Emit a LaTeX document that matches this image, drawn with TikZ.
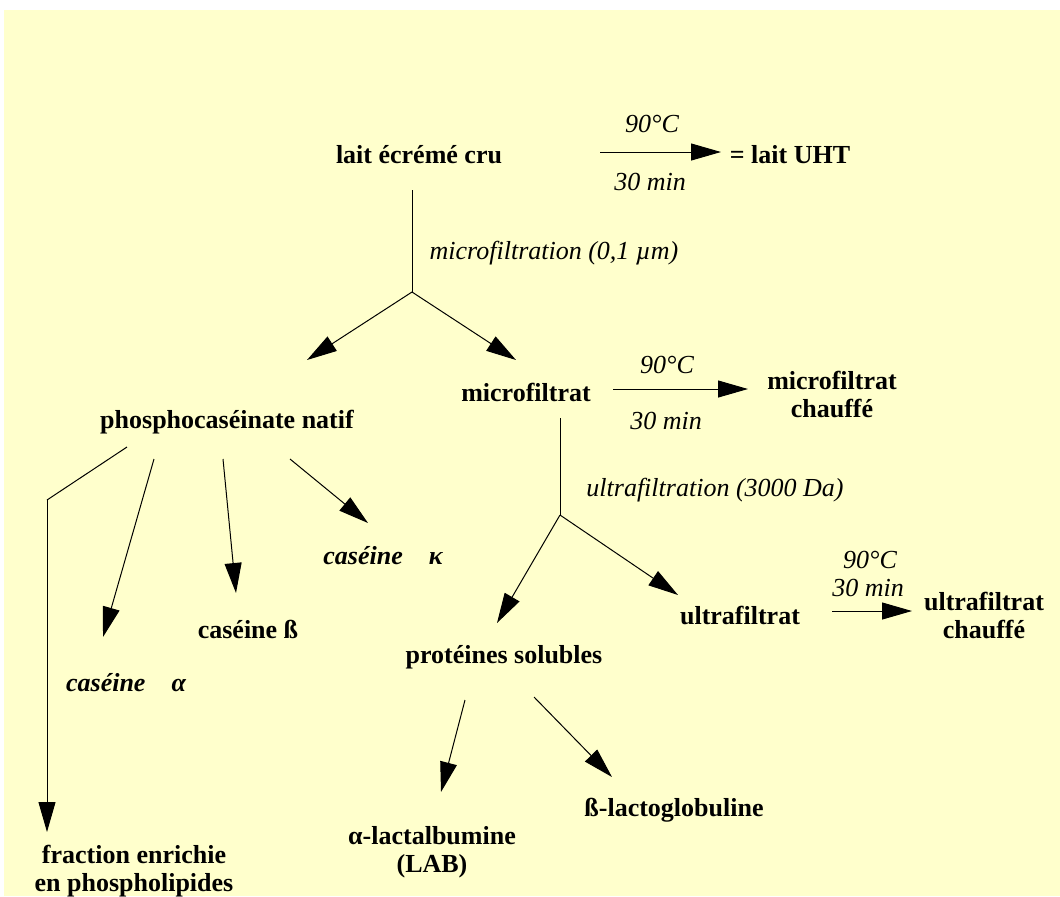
\documentclass[tikz,border=0pt]{standalone}
\usepackage{fontspec}
\setmainfont{Liberation Serif}
\usetikzlibrary{arrows.meta}
\definecolor{fond}{HTML}{FFFFCC}
\tikzset{
  produit/.style={font=\bfseries\fontsize{13}{14}\selectfont, align=center, inner sep=0pt},
  fraction/.style={font=\bfseries\itshape\fontsize{13}{14}\selectfont, inner sep=0pt},
  condition/.style={font=\itshape\fontsize{13}{14}\selectfont, inner sep=0pt},
  fleche/.style={-{Triangle[length=15pt,width=8.5pt]}, line width=.5pt},
  trait/.style={line width=.5pt}
}
\begin{document}
\begin{tikzpicture}[x=.5pt,y=-.5pt]
  \useasboundingbox (0,0) rectangle (1060,896);
  \fill[white] (0,0) rectangle (1060,896);
  \fill[fond] (4,10) rectangle (1060,896);
  % produits
  \node[produit] (lait) at (419,155) {lait écrémé cru};
  \node[produit] (uht) at (790,155) {= lait UHT};
  \node[produit] (phos) at (227,422) {phosphocaséinate natif};
  \node[produit] (mf) at (526,392) {microfiltrat};
  \node[produit] (mfch) at (832,394) {microfiltrat\\chauffé};
  \node[fraction] (kappa) at (383,556) {caséine\hspace{1em}κ};
  \node[produit] (beta) at (248,629) {caséine ß};
  \node[fraction] (alpha) at (126,683) {caséine\hspace{1em}α};
  \node[produit] (phlip) at (134,871) {fraction enrichie\\en phospholipides};
  \node[produit] (uf) at (740,615) {ultrafiltrat};
  \node[produit] (ufch) at (984,615) {ultrafiltrat\\chauffé};
  \node[produit] (prot) at (504,657) {protéines solubles};
  \node[produit] (lab) at (432,852) {α-lactalbumine\\(LAB)};
  \node[produit] (blg) at (674,810) {ß-lactoglobuline};
  % conditions
  \node[condition] (t1) at (652,124) {90°C};
  \node[condition] (d1) at (650,182) {30 min};
  \node[condition] (t2) at (667,365) {90°C};
  \node[condition] (d2) at (666,421) {30 min};
  \node[condition] (t3) at (870,560) {90°C};
  \node[condition] (d3) at (868,588) {30 min};
  \node[condition] (mfop) at (554,253) {microfiltration (0,1 µm)};
  \node[condition] (ufop) at (715,490) {ultrafiltration (3000 Da)};
  % points des traits
  \coordinate (h1a) at (600,152); \coordinate (h1b) at (721,152);
  \coordinate (h2a) at (613,389); \coordinate (h2b) at (748,389);
  \coordinate (h3a) at (832,611); \coordinate (h3b) at (912,611);
  \coordinate (v1) at (412,190); \coordinate (j1) at (412,292);
  \coordinate (j1g) at (307,360); \coordinate (j1d) at (516,360);
  \coordinate (v2) at (560,418); \coordinate (j2) at (560,515);
  \coordinate (j2g) at (497,623); \coordinate (j2d) at (678,595);
  \coordinate (pa) at (127,447); \coordinate (pb) at (47,500); \coordinate (pc) at (47,832);
  \coordinate (aa) at (154,459); \coordinate (ab) at (103,637);
  \coordinate (ba) at (223,459); \coordinate (bb) at (236,593);
  \coordinate (ka) at (290,459); \coordinate (kb) at (368,523);
  \coordinate (la) at (465,700); \coordinate (lb) at (441,792);
  \coordinate (ga) at (534,697); \coordinate (gb) at (612,777);
  % chauffage
  \draw[fleche] (h1a) -- (h1b);
  \draw[fleche] (h2a) -- (h2b);
  \draw[fleche] (h3a) -- (h3b);
  % filtrations
  \draw[trait] (v1) -- (j1);
  \draw[fleche] (j1) -- (j1g);
  \draw[fleche] (j1) -- (j1d);
  \draw[trait] (v2) -- (j2);
  \draw[fleche] (j2) -- (j2g);
  \draw[fleche] (j2) -- (j2d);
  % fractions du phosphocaseinate
  \draw[trait] (pa) -- (pb);
  \draw[fleche] (pb) -- (pc);
  \draw[fleche] (aa) -- (ab);
  \draw[fleche] (ba) -- (bb);
  \draw[fleche] (ka) -- (kb);
  % proteines solubles
  \draw[fleche] (la) -- (lb);
  \draw[fleche] (ga) -- (gb);
\end{tikzpicture}
\end{document}
